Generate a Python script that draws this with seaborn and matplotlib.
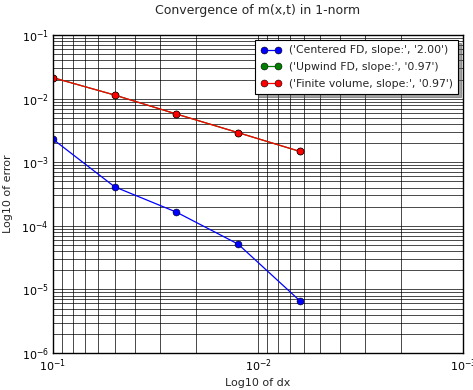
import numpy as np
import pandas as pd
import matplotlib
matplotlib.use("Agg")
import matplotlib.pyplot as plt
import seaborn as sns

# Grid spacings and 1-norm errors for each scheme
dx = [0.1, 0.05, 0.025, 0.0125, 0.00625]
err_centered = [2.3e-3, 4.1e-4, 1.64e-4, 5.15e-5, 6.6e-6]
err_upwind = [2.14e-2, 1.14e-2, 5.73e-3, 2.92e-3, 1.48e-3]
err_fv = [2.14e-2, 1.14e-2, 5.73e-3, 2.92e-3, 1.48e-3]
labels = [
    "('Centered FD, slope:', '2.00')",
    "('Upwind FD, slope:', '0.97')",
    "('Finite volume, slope:', '0.97')",
]
colors = ["#0000ff", "#007f00", "#ff0000"]

frames = []
for lab, err in zip(labels, [err_centered, err_upwind, err_fv]):
    frames.append(pd.DataFrame({"dx": dx, "error": err, "method": lab}))
df = pd.concat(frames, ignore_index=True)

sns.set_theme(style="white")
plt.rcParams["font.family"] = ["DejaVu Sans"]

fig = plt.figure(figsize=(4.73, 3.9), dpi=100)
ax = fig.add_axes([0.112, 0.095, 0.867, 0.815])

sns.lineplot(
    data=df, x="dx", y="error", hue="method", hue_order=labels,
    palette=colors, marker="o", markersize=5, markeredgecolor="#000000",
    markeredgewidth=0.4, linewidth=0.9, ax=ax, sort=False,
)

ax.set_xscale("log")
ax.set_yscale("log")
ax.set_xlim(1e-1, 1e-3)
ax.set_ylim(1e-6, 1e-1)

ax.grid(True, which="both", color="black", linestyle="-", linewidth=0.5)
ax.tick_params(which="both", length=0, labelsize=8, colors="black", pad=3)
for s in ax.spines.values():
    s.set_color("black")
    s.set_linewidth(1.0)

ax.set_title("Convergence of m(x,t) in 1-norm", fontsize=9, pad=15)
ax.set_xlabel("Log10 of dx", fontsize=8, labelpad=3)
ax.set_ylabel("Log10 of error", fontsize=8, labelpad=6)

handles, labs = ax.get_legend_handles_labels()
leg = ax.legend(handles, labs, loc="upper right", numpoints=2, fontsize=7.8,
                fancybox=False, shadow=True, framealpha=1, edgecolor="black",
                borderaxespad=0.45, handlelength=1.9, handletextpad=0.7,
                borderpad=0.5, labelspacing=0.62)
leg.get_frame().set_linewidth(0.8)

fig.savefig("out.png", dpi=100)
